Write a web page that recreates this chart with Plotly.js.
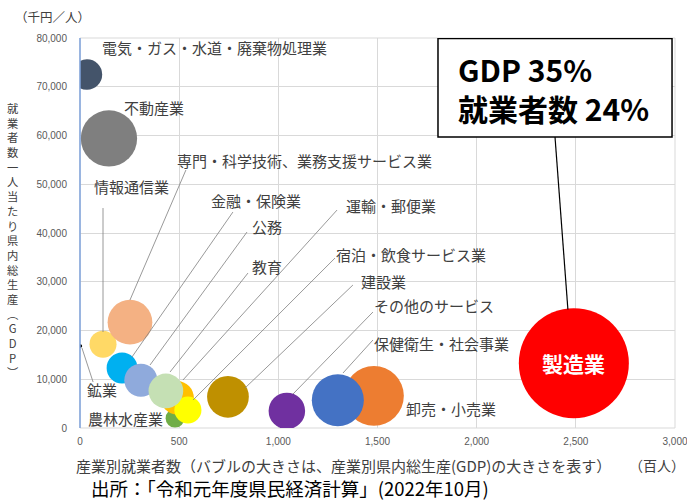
<!DOCTYPE html>
<html><head><meta charset="utf-8">
<script src="https://cdn.plot.ly/plotly-3.0.1.min.js"></script>
<style>html,body{margin:0;padding:0;background:#fff}</style>
</head><body><div id="chart" style="width:687px;height:500px"></div>
<script>
// industries (draw order: later ones on top)
const industries = ["製造業","卸売・小売業","保健衛生・社会事業","その他のサービス","建設業","農林水産業","運輸・郵便業","宿泊・飲食サービス業","情報通信業","専門・科学技術、業務支援サービス業","金融・保険業","公務","教育","不動産業","電気・ガス・水道・廃棄物処理業","鉱業"];
// employed persons (hundreds)
const workers = [2490, 1482, 1300, 1043, 746, 479, 490, 544, 116, 252, 212, 307, 433, 146, 35, 2];
// GDP per worker (thousand yen / person)
const gdpPerWorker = [13300, 6600, 5700, 3500, 6400, 2000, 6200, 3700, 17200, 21700, 12300, 9800, 7600, 59400, 72500, 16800];
// prefectural GDP (100 million yen) -> bubble area
const gdp = [33100, 9780, 7410, 3650, 4770, 960, 3040, 2010, 2000, 5470, 2610, 3010, 3290, 8670, 2540, 34];
const colors = ["#ff0000","#ed7d31","#4472c4","#7030a0","#bf9000","#70ad47","#ffc000","#ffff00","#ffd966","#f4b183","#00b0f0","#8faadc","#c5e0b4","#7f7f7f","#44546a","#000000"];

const xTickVals = [0,500,1000,1500,2000,2500,3000];
const yTickVals = [0,10000,20000,30000,40000,50000,60000,70000,80000];

const yTitle = "就業者数一人当たり県内総生産︵GDP︶";
const xTitle = "産業別就業者数（バブルの大きさは、産業別県内総生産(GDP)の大きさを表す）";
const xUnit = "（百人）";
const yUnit = "（千円／人）";
const source = "出所：「令和元年度県民経済計算」(2022年10月)";

// label text, anchor x, anchor y (data units)
const labels = [
  ["電気・ガス・水道・廃棄物処理業", 101, 78000],
  ["不動産業", 212, 65800],
  ["専門・科学技術、業務支援サービス業", 479, 54900],
  ["情報通信業", 62, 49600],
  ["金融・保険業", 652, 46600],
  ["公務", 857, 41300],
  ["教育", 857, 33200],
  ["運輸・郵便業", 1331, 45700],
  ["宿泊・飲食サービス業", 1281, 35600],
  ["建設業", 1407, 30000],
  ["その他のサービス", 1472, 25200],
  ["保健衛生・社会事業", 1472, 17400],
  ["卸売・小売業", 1634, 4100],
  ["鉱業", 27, 8000],
  ["農林水産業", 32, 1850]
];
// leader lines [x0,y0,x1,y1] in data units
const leaders = [
  [534,52920,252,26250],
  [116,45120,116,19690],
  [771,44300,262,14560],
  [842,40200,353,12920],
  [847,31790,454,11490],
  [1296,44710,519,9840],
  [1286,34870,570,5740],
  [1376,29330,832,8200],
  [1477,23790,1074,6970],
  [1477,18050,1326,11280],
  [10,16410,66,9430]
];

const maxG = Math.max(...gdp);
const trace = {
  type: 'scatter', mode: 'markers',
  x: workers, y: gdpPerWorker, text: industries,
  hoverinfo: 'text',
  marker: {
    size: gdp, sizemode: 'area', sizeref: 2*maxG/(110*110), sizemin: 1.5,
    color: colors, opacity: 1, line: {width: 0}
  }
};

const jp = "Noto Sans CJK JP";
const annotations = labels.map(l => ({
  text: l[0], x: l[1], y: l[2], xref: 'x', yref: 'y',
  xanchor: 'left', yanchor: 'middle', showarrow: false,
  font: {family: jp, size: 15, color: '#404040'}
}));
annotations.push({
  text: industries[0], x: workers[0], y: gdpPerWorker[0], xref: 'x', yref: 'y',
  showarrow: false, font: {family: jp, size: 21, color: '#ffffff', weight: 'bold'}
});
annotations.push({
  text: "<b>GDP 35%</b><br><b>就業者数 24%</b>", x: 1895, y: 69600, xref: 'x', yref: 'y',
  xanchor: 'left', yanchor: 'middle', align: 'left', showarrow: false,
  font: {family: jp, size: 30, color: '#000000'}
});
// pixel-placed texts (converted to paper coords below)
const pixelTexts = [
  {text: yUnit, x: 52, y: 17, xanchor: 'center', font: {family: jp, size: 12.5, color: '#404040'}},
  {text: Array.from(yTitle).join('<br>'), x: 13, y: 240, xanchor: 'center', align: 'center',
   font: {family: jp, size: 11.3, color: '#404040'}},
  {text: xTitle, x: 74, y: 465, xanchor: 'left', font: {family: jp, size: 15, color: '#404040'}},
  {text: xUnit, x: 687, y: 465, xanchor: 'right', font: {family: jp, size: 14, color: '#404040'}},
  {text: source, x: 89, y: 488, xanchor: 'left', font: {family: jp, size: 18.5, color: '#000000'}}
];
const W = 687, H = 500, L = 80, R = 12, T = 38, B = 72;
const pw = W - L - R, ph = H - T - B;
pixelTexts.forEach(p => annotations.push(Object.assign({}, p, {
  xref: 'paper', yref: 'paper', x: (p.x - L) / pw, y: (H - B - p.y) / ph,
  yanchor: 'middle', showarrow: false
})));

const shapes = [
  {type: 'rect', xref: 'paper', yref: 'paper', x0: 0, x1: 1, y0: 0, y1: 1,
   line: {color: '#d9d9d9', width: 1}, layer: 'below'},
  {type: 'line', xref: 'paper', yref: 'paper', x0: 0, x1: 0, y0: 0, y1: 1,
   line: {color: '#7fa3dc', width: 1.5}, layer: 'above'}
];
leaders.forEach(s => shapes.push({type: 'line', xref: 'x', yref: 'y', x0: s[0], y0: s[1], x1: s[2], y1: s[3],
  line: {color: '#7f7f7f', width: 0.8}}));
shapes.push({type: 'rect', xref: 'x', yref: 'y', x0: 1805, x1: 2985, y0: 59680, y1: 79900,
  line: {color: '#000000', width: 1.5}, fillcolor: '#ffffff'});
shapes.push({type: 'line', xref: 'x', yref: 'y', x0: 2395, y0: 59680, x1: 2460, y1: 24300,
  line: {color: '#000000', width: 1.2}});

const layout = {
  width: W, height: H,
  margin: {l: L, r: R, t: T, b: B},
  paper_bgcolor: '#ffffff', plot_bgcolor: '#ffffff',
  showlegend: false,
  font: {family: jp},
  xaxis: {
    range: [0, 3000], tickvals: xTickVals, tickformat: ',', showgrid: true, gridcolor: '#d9d9d9',
    zeroline: false, showline: false, ticks: '', ticklabelstandoff: 6, ticklabeloverflow: 'allow',
    tickfont: {family: 'Liberation Sans', size: 10, color: '#595959'}
  },
  yaxis: {
    range: [0, 80000], tickvals: yTickVals, tickformat: ',', showgrid: true, gridcolor: '#d9d9d9',
    zeroline: false, showline: false, ticks: '', ticklabelstandoff: 12, ticklabeloverflow: 'allow',
    tickfont: {family: 'Liberation Sans', size: 10, color: '#595959'}
  },
  annotations: annotations,
  shapes: shapes
};
Plotly.newPlot('chart', [trace], layout, {displayModeBar: false, staticPlot: true});
</script></body></html>
